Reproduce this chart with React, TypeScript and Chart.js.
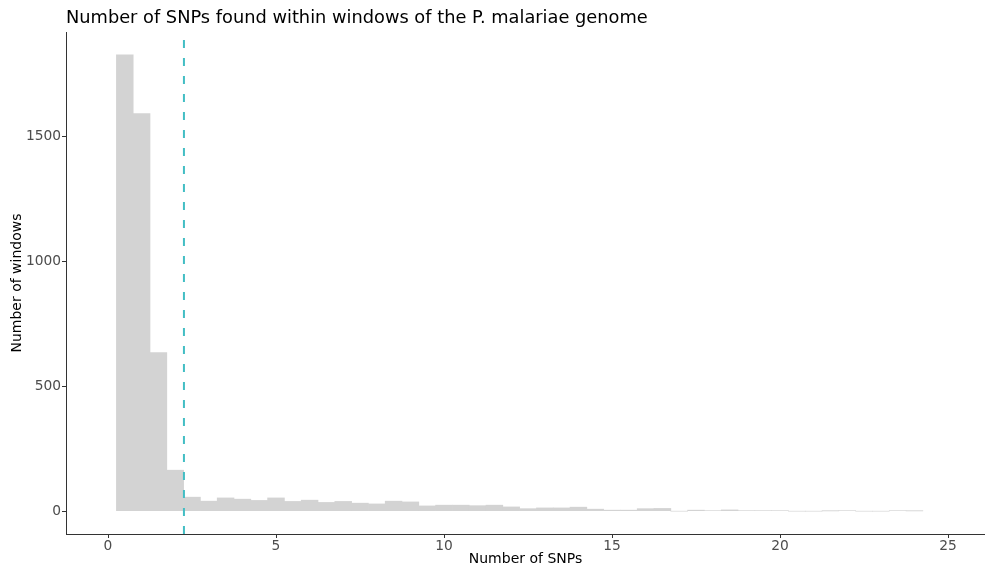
import React, { useEffect, useRef } from "react";
import { Chart, registerables } from "chart.js";

Chart.register(...registerables);

const binCenters: number[] = [
  0.5, 1.0, 1.5, 2.0, 2.5, 3.0, 3.5, 4.0, 4.5, 5.0, 5.5, 6.0, 6.5, 7.0, 7.5, 8.0,
  8.5, 9.0, 9.5, 10.0, 10.5, 11.0, 11.5, 12.0, 12.5, 13.0, 13.5, 14.0, 14.5, 15.0,
  15.5, 16.0, 16.5, 17.0, 17.5, 18.0, 18.5, 19.0, 19.5, 20.0, 20.5, 21.0, 21.5,
  22.0, 22.5, 23.0, 23.5, 24.0,
];
const windowCounts: number[] = [
  1827, 1591, 635, 164, 56, 40, 53, 48, 43, 53, 39, 44, 35, 39, 32, 29,
  40, 37, 21, 24, 24, 22, 24, 17, 10, 13, 13, 16, 8, 4,
  4, 10, 11, 0, 4, 2, 5, 2, 2, 2, 0, 0, 1,
  2, 0, 0, 2, 1,
];
const meanSNPs = 2.26;
const xTicks: number[] = [0, 5, 10, 15, 20, 25];
const yTicks: number[] = [0, 500, 1000, 1500];
const titleText = "Number of SNPs found within windows of the P. malariae genome";
const xTitle = "Number of SNPs";
const yTitle = "Number of windows";

const FONT = "'DejaVu Sans', sans-serif";

export default function App() {
  const ref = useRef<HTMLCanvasElement | null>(null);

  useEffect(() => {
    document.body.style.margin = "0";
    const canvas = ref.current;
    if (!canvas) return;

    const overlay = {
      id: "overlay",
      afterDatasetsDraw(chart: any) {
        const { ctx, chartArea, scales } = chart;
        const x = scales.x.getPixelForValue(meanSNPs);
        ctx.save();
        ctx.strokeStyle = "#42BEC4";
        ctx.lineWidth = 2;
        ctx.setLineDash([8, 10]);
        ctx.beginPath();
        ctx.moveTo(x, chartArea.bottom);
        ctx.lineTo(x, chartArea.top);
        ctx.stroke();
        ctx.restore();
      },
      afterDraw(chart: any) {
        const { ctx, chartArea } = chart;
        ctx.save();
        ctx.fillStyle = "#000";
        ctx.font = `17.8px ${FONT}`;
        ctx.textAlign = "left";
        ctx.textBaseline = "middle";
        ctx.fillText(titleText, chartArea.left, 18);
        ctx.font = `14px ${FONT}`;
        ctx.textAlign = "center";
        ctx.fillText(xTitle, (chartArea.left + chartArea.right) / 2, 559);
        ctx.translate(17, (chartArea.top + chartArea.bottom) / 2);
        ctx.rotate(-Math.PI / 2);
        ctx.fillText(yTitle, 0, 0);
        ctx.restore();
      },
    };

    const chart = new Chart(canvas, {
      type: "bar",
      data: {
        datasets: [
          {
            data: binCenters.map((c, i) => ({ x: c, y: windowCounts[i] })),
            backgroundColor: "#D3D3D3",
            borderWidth: 0,
            barPercentage: 1,
            categoryPercentage: 1,
          },
        ],
      },
      options: {
        responsive: false,
        animation: false,
        devicePixelRatio: 1,
        layout: { padding: { top: 32, left: 0, right: 0, bottom: 0 } },
        plugins: {
          legend: { display: false },
          tooltip: { enabled: false },
          title: { display: false },
        },
        scales: {
          x: {
            type: "linear",
            offset: false,
            min: -1.25,
            max: 26.1,
            afterFit(scale: any) {
              scale.height = 35;
            },
            afterBuildTicks(scale: any) {
              scale.ticks = xTicks.map((v) => ({ value: v }));
            },
            ticks: {
              color: "#4D4D4D",
              font: { family: FONT, size: 13.8 },
              padding: 0,
              maxRotation: 0,
              autoSkip: false,
              callback: (v: any) => String(v),
            },
            grid: {
              display: true,
              offset: false,
              drawOnChartArea: false,
              drawTicks: true,
              tickLength: 4,
              color: "#333333",
            },
            border: { display: true, color: "#333333", width: 1 },
          },
          y: {
            type: "linear",
            min: -91.4,
            max: 1918,
            afterFit(scale: any) {
              scale.width = 66;
            },
            afterBuildTicks(scale: any) {
              scale.ticks = yTicks.map((v) => ({ value: v }));
            },
            ticks: {
              color: "#4D4D4D",
              font: { family: FONT, size: 13.8 },
              padding: 1,
              autoSkip: false,
              callback: (v: any) => String(v),
            },
            grid: {
              display: true,
              drawOnChartArea: false,
              drawTicks: true,
              tickLength: 4,
              color: "#333333",
            },
            border: { display: true, color: "#333333", width: 1 },
          },
        },
      },
      plugins: [overlay],
    });

    return () => chart.destroy();
  }, []);

  return (
    <div style={{ position: "fixed", left: 0, top: 0, width: 985, height: 569, background: "#fff" }}>
      <canvas ref={ref} width={985} height={569} />
    </div>
  );
}
